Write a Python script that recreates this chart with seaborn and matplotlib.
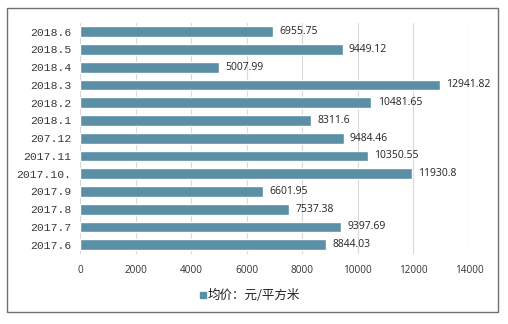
import matplotlib
matplotlib.use("Agg")
import matplotlib.pyplot as plt
import seaborn as sns
import pandas as pd
from matplotlib.patches import Rectangle

months = ["2018.6", "2018.5", "2018.4", "2018.3", "2018.2", "2018.1", "207.12",
          "2017.11", "2017.10.", "2017.9", "2017.8", "2017.7", "2017.6"]
prices = [6955.75, 9449.12, 5007.99, 12941.82, 10481.65, 8311.6, 9484.46,
          10350.55, 11930.8, 6601.95, 7537.38, 9397.69, 8844.03]
price_labels = ["6955.75", "9449.12", "5007.99", "12941.82", "10481.65", "8311.6", "9484.46",
                "10350.55", "11930.8", "6601.95", "7537.38", "9397.69", "8844.03"]
series_name = "均价：元/平方米"
xticks = [0, 2000, 4000, 6000, 8000, 10000, 12000, 14000]

sns.set_theme(style="white")
plt.rcParams['font.family'] = ['Noto Sans CJK SC', 'DejaVu Sans']

df = pd.DataFrame({"month": months, "price": prices, "series": series_name})

fig = plt.figure(figsize=(5.08, 3.24), dpi=100)
ax = fig.add_axes([80/508, 1-253.6/324, (469-80)/508, (253.6-22.8)/324])
color = "#5b8fa6"
sns.barplot(data=df, y="month", x="price", hue="series", orient="h", ax=ax,
            palette=[color], width=0.6, saturation=1, legend=False)

for i, (v, t) in enumerate(zip(prices, price_labels)):
    ax.text(v + 230, i, t, va="center", ha="left", fontsize=7.5,
            family=["Open Sans", "DejaVu Sans"], color="#222222")

ax.set_xlim(0, 14000)
ax.set_xticks(xticks)
ax.set_xticklabels([str(x) for x in xticks], fontsize=7.2,
                   family=["Open Sans", "DejaVu Sans"], color="#333333")
ax.set_yticklabels(months, fontsize=8.2, family=["Liberation Mono", "DejaVu Sans Mono"],
                   color="#3a3a3a")
ax.tick_params(axis="both", length=0, pad=6)
ax.tick_params(axis="x", pad=8)
ax.set_xlabel("")
ax.set_ylabel("")
ax.grid(axis="x", color="#d9d9d9", linewidth=0.8)
ax.set_axisbelow(True)
for s in ax.spines.values():
    s.set_visible(False)

# legend
fig.patches.append(Rectangle((199.5/508, 1-298/324), 6.5/508, 6.5/324, transform=fig.transFigure,
                             color=color, figure=fig))
fig.text(208/508, 1-295/324, series_name, fontsize=9, va="center", ha="left", color="#222222")

# outer border
fig.patches.append(Rectangle((7/508, 1-312/324), 491/508, 304/324, transform=fig.transFigure,
                             fill=False, edgecolor="#707070", linewidth=1, figure=fig))

fig.savefig("out.png", dpi=100)
